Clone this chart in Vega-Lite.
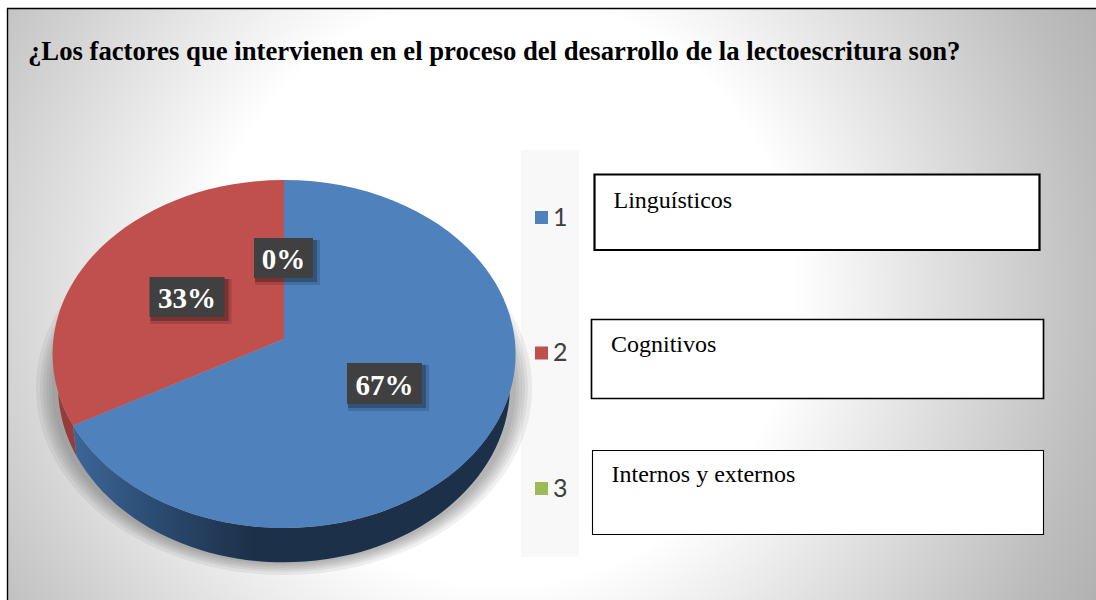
{"$schema":"https://vega.github.io/schema/vega-lite/v6.json","width":1096,"height":600,"padding":0,"autosize":{"type":"none"},"background":"white","config":{"view":{"stroke":null},"axis":{"disable":true},"legend":{"disable":true}},
"datasets":{"respuestas":[{"opcion":1,"factor":"Linguísticos","porcentaje":67},{"opcion":2,"factor":"Cognitivos","porcentaje":33},{"opcion":3,"factor":"Internos y externos","porcentaje":0}],"sombra":[{"capa":1},{"capa":2},{"capa":3},{"capa":4},{"capa":5},{"capa":6}],"marco":[{"nombre":"marco"}]},
"data":{"name":"respuestas"},
"resolve":{"scale":{"x":"independent","y":"independent","shape":"independent","color":"independent","size":"independent"}},
"layer":[
{"data":{"name":"marco"},"layer":[
{"mark":{"type":"rect","fill":{"gradient":"radial","x1":0.4527,"y1":0.4867,"r1":0,"x2":0.4527,"y2":0.4867,"r2":0.643,"stops":[{"offset":0,"color":"#ffffff"},{"offset":0.42,"color":"#ffffff"},{"offset":0.857,"color":"#bdbdbd"},{"offset":1,"color":"#adadad"}]}},"encoding":{"x":{"datum":7,"scale":{"domain":[0,1096],"range":[0,1096],"nice":false,"zero":false}},"x2":{"datum":1096},"y":{"datum":9,"scale":{"domain":[0,600],"range":[0,600],"nice":false,"zero":false}},"y2":{"datum":600}}},
{"mark":{"type":"rule","color":"#000000","strokeWidth":1.4},"encoding":{"x":{"datum":7.5},"y":{"datum":8.5},"y2":{"datum":600}}},
{"mark":{"type":"rule","color":"#000000","strokeWidth":1.4},"encoding":{"x":{"datum":7},"x2":{"datum":1096},"y":{"datum":8.5}}},
{"mark":{"type":"text","text":"¿Los factores que intervienen en el proceso del desarrollo de la lectoescritura son?","font":"Liberation Serif","fontWeight":"bold","fontSize":26.7,"align":"left","baseline":"alphabetic","color":"#000000"},"encoding":{"x":{"datum":28},"y":{"datum":60}}},
{"mark":{"type":"rect","fill":"#f8f8f8"},"encoding":{"x":{"datum":521},"x2":{"datum":579},"y":{"datum":150},"y2":{"datum":557}}}
]},
{"data":{"name":"sombra"},"mark":{"type":"point","filled":true,"fill":"#555555","opacity":0.09,"strokeWidth":0,"size":4},"encoding":{"x":{"datum":284,"scale":{"domain":[0,1096],"range":[0,1096],"nice":false,"zero":false}},"y":{"datum":388,"scale":{"domain":[0,600],"range":[0,600],"nice":false,"zero":false}},"shape":{"field":"capa","type":"nominal","scale":{"domain":[1,2,3,4,5,6],"range":["M-232,0 A232,176 0 1 1 232,0 A232,176 0 1 1 -232,0 Z","M-235,0 A235,178 0 1 1 235,0 A235,178 0 1 1 -235,0 Z","M-238,0 A238,180 0 1 1 238,0 A238,180 0 1 1 -238,0 Z","M-241,0 A241,182 0 1 1 241,0 A241,182 0 1 1 -241,0 Z","M-244,0 A244,184 0 1 1 244,0 A244,184 0 1 1 -244,0 Z","M-248,0 A248,187 0 1 1 248,0 A248,187 0 1 1 -248,0 Z"]}}}},
{"transform":[{"filter":"datum.opcion == 2"}],"mark":{"type":"point","filled":true,"fill":"#963c3a","opacity":1,"strokeWidth":0,"size":4,"shape":"M-225.9,38 A231.5,174 0 0 0 -211,71.5 L-207.6,102 A226,176 0 0 1 -225.9,36 Z"},"encoding":{"x":{"datum":284,"scale":{"domain":[0,1096],"range":[0,1096],"nice":false,"zero":false}},"y":{"datum":354,"scale":{"domain":[0,600],"range":[0,600],"nice":false,"zero":false}}}},
{"transform":[{"filter":"datum.opcion == 1"}],"mark":{"type":"point","filled":true,"fill":{"gradient":"linear","x1":0,"y1":0,"x2":1,"y2":0,"stops":[{"offset":0,"color":"#3c6698"},{"offset":0.2,"color":"#2a4a6f"},{"offset":0.41,"color":"#1d3049"},{"offset":1,"color":"#1d3049"}]},"opacity":1,"strokeWidth":0,"size":4,"shape":"M225.9,38 A231.5,174 0 0 1 -211,71.5 L-207.6,102 A226,176 0 0 0 225.9,36 Z"},"encoding":{"x":{"datum":284,"scale":{"domain":[0,1096],"range":[0,1096],"nice":false,"zero":false}},"y":{"datum":354,"scale":{"domain":[0,600],"range":[0,600],"nice":false,"zero":false}}}},
{"transform":[{"filter":"datum.porcentaje > 0"}],"mark":{"type":"point","filled":true,"opacity":1,"strokeWidth":0,"size":4},"encoding":{"x":{"datum":284,"scale":{"domain":[0,1096],"range":[0,1096],"nice":false,"zero":false}},"y":{"datum":354,"scale":{"domain":[0,600],"range":[0,600],"nice":false,"zero":false}},"shape":{"field":"opcion","type":"nominal","scale":{"domain":[1,2],"range":["M0,-15 L0,-174 A231.5,174 0 1 1 -211,71.5 Z","M0,-15 L0,-174 A231.5,174 0 0 0 -211,71.5 Z"]}},"color":{"field":"opcion","type":"nominal","scale":{"domain":[1,2],"range":["#4f81bd","#c0504d"]}}}},
{"mark":{"type":"point","filled":true,"fill":"#000000","opacity":0.14,"strokeWidth":0,"size":4},"encoding":{"x":{"field":"porcentaje","type":"quantitative","scale":{"domain":[0,33,67],"range":[283.5,187,384.5],"nice":false,"zero":false}},"y":{"field":"porcentaje","type":"quantitative","scale":{"domain":[0,33,67],"range":[258,297,383.5],"nice":false,"zero":false}},"shape":{"field":"porcentaje","type":"nominal","scale":{"domain":[0,33,67],"range":["M-28.5,-18H36.5V27H-28.5Z","M-36.5,-18H44.5V27H-36.5Z","M-36.5,-18.5H44.5V27.5H-36.5Z"]}}}},
{"mark":{"type":"point","filled":true,"fill":"#000000","opacity":0.25,"strokeWidth":0,"size":4},"encoding":{"x":{"field":"porcentaje","type":"quantitative","scale":{"domain":[0,33,67],"range":[283.5,187,384.5],"nice":false,"zero":false}},"y":{"field":"porcentaje","type":"quantitative","scale":{"domain":[0,33,67],"range":[258,297,383.5],"nice":false,"zero":false}},"shape":{"field":"porcentaje","type":"nominal","scale":{"domain":[0,33,67],"range":["M-28.5,-18H33.5V24H-28.5Z","M-36.5,-18H41.5V24H-36.5Z","M-36.5,-18.5H41.5V24.5H-36.5Z"]}}}},
{"mark":{"type":"point","filled":true,"fill":"#404040","opacity":1,"strokeWidth":0,"size":4},"encoding":{"x":{"field":"porcentaje","type":"quantitative","scale":{"domain":[0,33,67],"range":[283.5,187,384.5],"nice":false,"zero":false}},"y":{"field":"porcentaje","type":"quantitative","scale":{"domain":[0,33,67],"range":[258,297,383.5],"nice":false,"zero":false}},"shape":{"field":"porcentaje","type":"nominal","scale":{"domain":[0,33,67],"range":["M-29.5,-20H29.5V20H-29.5Z","M-37.5,-20H37.5V20H-37.5Z","M-37.5,-20.5H37.5V20.5H-37.5Z"]}}}},
{"transform":[{"calculate":"datum.porcentaje + '%'","as":"etiqueta"}],"mark":{"type":"text","font":"Liberation Serif","fontWeight":"bold","fontSize":29,"align":"center","baseline":"middle","color":"#ffffff"},"encoding":{"x":{"field":"porcentaje","type":"quantitative","scale":{"domain":[0,33,67],"range":[283.5,187,384.5],"nice":false,"zero":false}},"y":{"field":"porcentaje","type":"quantitative","scale":{"domain":[0,33,67],"range":[260,299,385.5],"nice":false,"zero":false}},"text":{"field":"etiqueta","type":"nominal"}}},
{"layer":[
{"mark":{"type":"point","filled":true,"shape":"square","size":169,"opacity":1,"strokeWidth":0},"encoding":{"x":{"datum":541.5,"scale":{"domain":[0,1096],"range":[0,1096],"nice":false,"zero":false}},"y":{"field":"opcion","type":"quantitative","scale":{"domain":[1,3],"range":[217.5,488.5],"nice":false,"zero":false}},"color":{"field":"opcion","type":"nominal","scale":{"domain":[1,2,3],"range":["#4f81bd","#c0504d","#9bbb59"]}}}},
{"mark":{"type":"text","font":"Lato","fontSize":25,"align":"left","baseline":"middle","color":"#404040"},"encoding":{"x":{"datum":553,"scale":{"domain":[0,1096],"range":[0,1096],"nice":false,"zero":false}},"y":{"field":"opcion","type":"quantitative","scale":{"domain":[1,3],"range":[219.5,490.5],"nice":false,"zero":false}},"text":{"field":"opcion","type":"nominal"}}}
]},
{"mark":{"type":"point","filled":true,"fill":"#ffffff","stroke":"#000000","opacity":1,"strokeOpacity":1,"fillOpacity":1,"size":4},"encoding":{"x":{"datum":0,"scale":{"domain":[0,1096],"range":[0,1096],"nice":false,"zero":false}},"y":{"datum":0,"scale":{"domain":[0,600],"range":[0,600],"nice":false,"zero":false}},"strokeWidth":{"field":"opcion","type":"ordinal","scale":{"domain":[1,2,3],"range":[2.2,1.1,1.1]}},"shape":{"field":"opcion","type":"nominal","scale":{"domain":[1,2,3],"range":["M594.5,174.5H1039.5V250H594.5Z","M591.5,319.5H1043.5V398.5H591.5Z","M592.5,450.5H1043.5V534.5H592.5Z"]}}}},
{"mark":{"type":"text","font":"Liberation Serif","fontSize":24,"align":"left","baseline":"alphabetic","color":"#000000"},"encoding":{"x":{"field":"opcion","type":"quantitative","scale":{"domain":[1,2,3],"range":[613.5,611,611.5],"nice":false,"zero":false}},"y":{"field":"opcion","type":"quantitative","scale":{"domain":[1,2,3],"range":[208,352,482],"nice":false,"zero":false}},"text":{"field":"factor","type":"nominal"}}}
]}
